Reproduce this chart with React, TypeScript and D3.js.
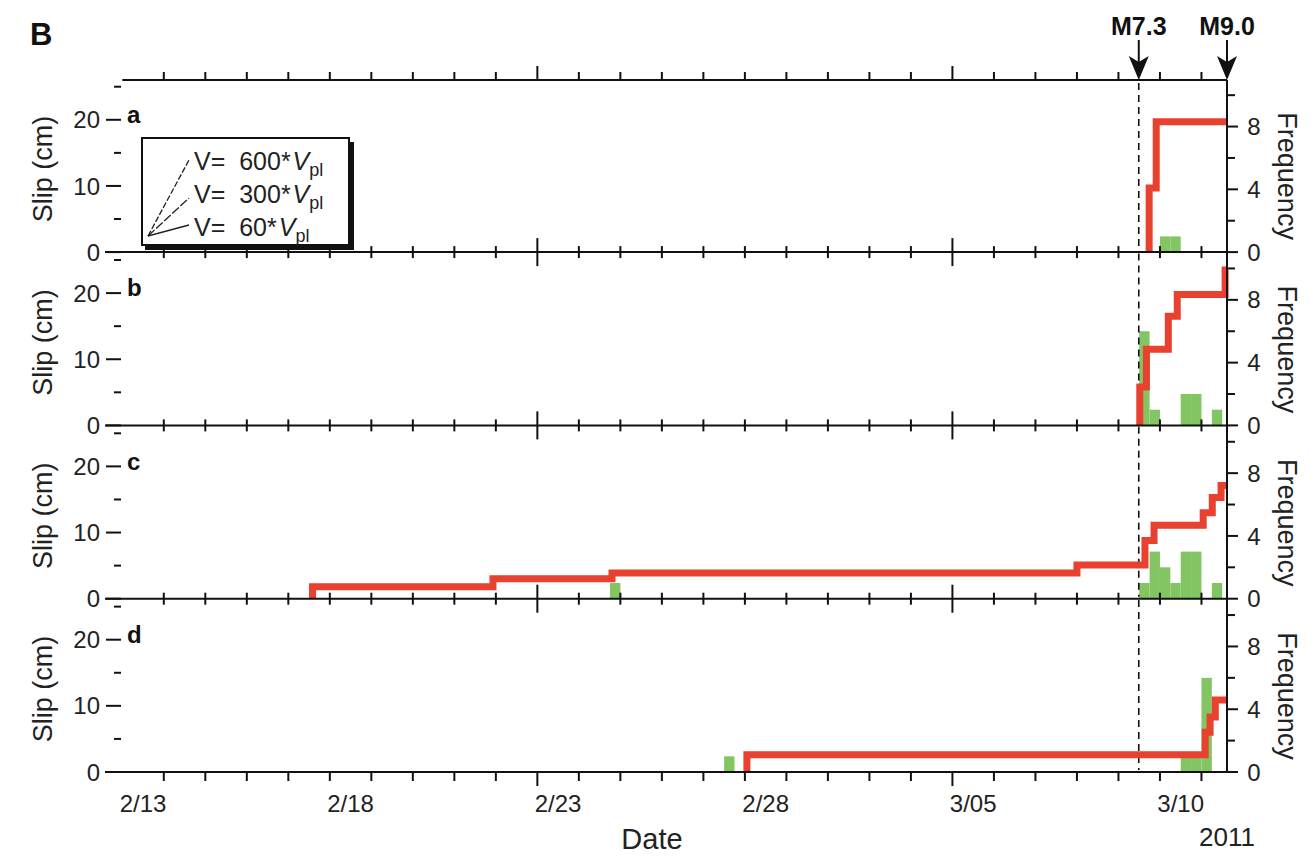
import React, { useEffect, useRef } from "react";
import * as d3 from "d3";

const panelLetters = ["a", "b", "c", "d"];

// cumulative slip (cm): time of each jump and the value after it
const slipTimesA = ["2011-03-09 17:45", "2011-03-09 21:50"];
const slipValuesA = [9.7, 19.7];
const slipTimesB = ["2011-03-09 12:20", "2011-03-09 16:10", "2011-03-10 04:50", "2011-03-10 10:00", "2011-03-11 13:40"];
const slipValuesB = [5.8, 11.5, 16.5, 19.8, 23.5];
const slipTimesC = [
  "2011-02-17 14:00", "2011-02-21 22:20", "2011-02-24 19:10", "2011-03-08 00:00", "2011-03-09 15:20",
  "2011-03-09 20:35", "2011-03-11 01:00", "2011-03-11 06:15", "2011-03-11 11:20",
];
const slipValuesC = [1.8, 3.0, 3.9, 5.1, 8.8, 11.1, 13.0, 15.3, 17.1];
const slipTimesD = ["2011-02-28 01:10", "2011-03-11 02:10", "2011-03-11 05:00", "2011-03-11 08:00"];
const slipValuesD = [2.6, 6.0, 8.3, 10.9];

// event frequency in 6-hour bins (bin start, count)
const binStartsA = ["2011-03-10 00:00", "2011-03-10 06:00"];
const binCountsA = [1, 1];
const binStartsB = ["2011-03-09 12:00", "2011-03-09 18:00", "2011-03-10 12:00", "2011-03-10 18:00", "2011-03-11 06:00"];
const binCountsB = [6, 1, 2, 2, 1];
const binStartsC = [
  "2011-02-24 18:00", "2011-03-09 12:00", "2011-03-09 18:00", "2011-03-10 00:00",
  "2011-03-10 06:00", "2011-03-10 12:00", "2011-03-10 18:00", "2011-03-11 06:00",
];
const binCountsC = [1, 1, 3, 2, 1, 3, 3, 1];
const binStartsD = ["2011-02-27 12:00", "2011-03-10 12:00", "2011-03-10 18:00", "2011-03-11 00:00"];
const binCountsD = [1, 1, 1, 6];

const startTime = "2011-02-12 14:00";
const endTime = "2011-03-11 14:46"; // M9.0
const m73Time = "2011-03-09 11:45";

const dateLabels = ["2011-02-13", "2011-02-18", "2011-02-23", "2011-02-28", "2011-03-05", "2011-03-10"];
const majorTickDays = ["2011-02-23", "2011-03-05"];
const slipMajor = [0, 10, 20];
const slipMinor = [5, 15, 25];
const freqMajor = [0, 4, 8];
const freqMinor = [2, 6, 10];

const legendSpeeds = ["600", "300", "60"];

const RED = "#e8412f";
const GREEN = "#82c562";
const FONT = "'Liberation Sans', Arial, Helvetica, sans-serif";

const App = () => {
  const svgRef = useRef(null);

  useEffect(() => {
    if (!svgRef.current) return;
    d3.select(svgRef.current).selectAll("*").remove();

    const width = 1311;
    const height = 858;
    const parse = d3.timeParse("%Y-%m-%d %H:%M");
    const parseDay = d3.timeParse("%Y-%m-%d");

    const svg = d3.select(svgRef.current)
      .attr("width", width)
      .attr("height", height)
      .style("font-family", FONT);

    const left = 105;
    const right = 1227;
    const topY = 80;
    const bottomY = 772;
    const panelStep = 173.3;

    const x = d3.scaleTime()
      .domain([parse(startTime), parse(endTime)])
      .range([left, right]);

    const days = d3.timeDay.range(new Date(2011, 1, 14), new Date(2011, 2, 12));
    const majorSet = new Set(majorTickDays.map(s => +parseDay(s)));

    const panels = [
      { times: slipTimesA, values: slipValuesA, bins: binStartsA, counts: binCountsA },
      { times: slipTimesB, values: slipValuesB, bins: binStartsB, counts: binCountsB },
      { times: slipTimesC, values: slipValuesC, bins: binStartsC, counts: binCountsC },
      { times: slipTimesD, values: slipValuesD, bins: binStartsD, counts: binCountsD },
    ];

    const xM73 = x(parse(m73Time));

    panels.forEach((p, i) => {
      const bottom = bottomY - (3 - i) * panelStep;
      const y = d3.scaleLinear().domain([0, 26]).range([bottom, bottom - 172]);
      const yf = d3.scaleLinear().domain([0, 10.96]).range([bottom, bottom - 172]);
      const g = svg.append("g");

      // frequency bars
      g.append("g")
        .selectAll("rect")
        .data(p.bins.map((b, k) => ({ t: parse(b), c: p.counts[k] })))
        .join("rect")
        .attr("x", d => x(d.t))
        .attr("width", d => x(d3.timeHour.offset(d.t, 6)) - x(d.t))
        .attr("y", d => yf(d.c))
        .attr("height", d => yf(0) - yf(d.c))
        .attr("fill", GREEN);

      // dashed M7.3 line through the panel
      g.append("line")
        .attr("x1", xM73).attr("x2", xM73)
        .attr("y1", i === 0 ? topY + 3 : bottom - 172)
        .attr("y2", bottom - 2)
        .attr("stroke", "#111")
        .attr("stroke-width", 1.6)
        .attr("stroke-dasharray", "7,5");

      // slip step line
      const pts = [[parse(p.times[0]), 0]].concat(p.times.map((t, k) => [parse(t), p.values[k]]));
      pts.push([parse(endTime), p.values[p.values.length - 1]]);
      g.append("path")
        .datum(pts)
        .attr("fill", "none")
        .attr("stroke", RED)
        .attr("stroke-width", 7)
        .attr("stroke-linejoin", "miter")
        .attr("d", d3.line().x(d => x(d[0])).y(d => y(d[1])).curve(d3.curveStepAfter));

      // baseline
      g.append("line")
        .attr("x1", left).attr("x2", right)
        .attr("y1", bottom).attr("y2", bottom)
        .attr("stroke", "#111").attr("stroke-width", 2);

      // date ticks on baseline
      g.append("g")
        .selectAll("line")
        .data(days)
        .join("line")
        .attr("x1", d => x(d)).attr("x2", d => x(d))
        .attr("y1", d => i === 3 ? bottom : bottom - (majorSet.has(+d) ? 14 : 6))
        .attr("y2", d => bottom + (majorSet.has(+d) ? 14 : (i === 3 ? 9 : 6)))
        .attr("stroke", "#111").attr("stroke-width", 2);

      // left slip ticks
      g.append("g")
        .selectAll("line")
        .data(slipMajor.map(v => ({ v, major: true })).concat(slipMinor.map(v => ({ v, major: false }))))
        .join("line")
        .attr("x1", d => d.major ? 106 : 114).attr("x2", 121)
        .attr("y1", d => y(d.v)).attr("y2", d => y(d.v))
        .attr("stroke", "#111").attr("stroke-width", 2);

      g.append("g")
        .selectAll("text")
        .data(slipMajor)
        .join("text")
        .attr("x", 100)
        .attr("y", d => y(d))
        .attr("dy", "0.36em")
        .attr("text-anchor", "end")
        .attr("font-size", 24)
        .attr("fill", "#222")
        .text(d => d);

      // right frequency ticks
      g.append("g")
        .selectAll("line")
        .data(freqMajor.map(v => ({ v, major: true })).concat(freqMinor.map(v => ({ v, major: false }))))
        .join("line")
        .attr("x1", right).attr("x2", d => d.major ? right + 11 : right + 8)
        .attr("y1", d => yf(d.v)).attr("y2", d => yf(d.v))
        .attr("stroke", "#111").attr("stroke-width", 2);

      g.append("g")
        .selectAll("text")
        .data(freqMajor)
        .join("text")
        .attr("x", 1254)
        .attr("y", d => yf(d))
        .attr("dy", "0.36em")
        .attr("text-anchor", "middle")
        .attr("font-size", 24)
        .attr("fill", "#222")
        .text(d => d);

      // axis titles
      const mid = bottom - 86;
      g.append("text")
        .attr("transform", `translate(${52},${mid + 3}) rotate(-90)`)
        .attr("text-anchor", "middle")
        .attr("font-size", 27)
        .attr("fill", "#222")
        .text("Slip (cm)");

      g.append("text")
        .attr("transform", `translate(${1278},${mid + 10}) rotate(90)`)
        .attr("text-anchor", "middle")
        .attr("font-size", 27)
        .attr("fill", "#222")
        .text("Frequency");

      // panel letter
      g.append("text")
        .attr("x", 127)
        .attr("y", bottom - 172 + 43)
        .attr("font-size", 24)
        .attr("font-weight", "bold")
        .attr("fill", "#111")
        .text(panelLetters[i]);
    });

    // right axis line
    svg.append("line")
      .attr("x1", right).attr("x2", right)
      .attr("y1", topY).attr("y2", bottomY)
      .attr("stroke", "#111").attr("stroke-width", 2);

    // top axis
    svg.append("line")
      .attr("x1", x(new Date(2011, 1, 13))).attr("x2", right)
      .attr("y1", topY).attr("y2", topY)
      .attr("stroke", "#111").attr("stroke-width", 2);

    svg.append("g")
      .selectAll("line")
      .data(days)
      .join("line")
      .attr("x1", d => x(d)).attr("x2", d => x(d))
      .attr("y1", topY)
      .attr("y2", d => topY - (majorSet.has(+d) ? 14 : 8))
      .attr("stroke", "#111").attr("stroke-width", 2);

    // date labels, centred on the day
    svg.append("g")
      .selectAll("text")
      .data(dateLabels.map(s => parseDay(s)))
      .join("text")
      .attr("x", d => x(d3.timeHour.offset(d, 12)))
      .attr("y", 812)
      .attr("text-anchor", "middle")
      .attr("font-size", 24)
      .attr("fill", "#222")
      .text(d => d3.timeFormat("%-m/%d")(d));

    svg.append("text")
      .attr("x", 652).attr("y", 849)
      .attr("text-anchor", "middle")
      .attr("font-size", 29)
      .attr("fill", "#222")
      .text("Date");

    svg.append("text")
      .attr("x", 1227).attr("y", 846)
      .attr("text-anchor", "middle")
      .attr("font-size", 26)
      .attr("fill", "#222")
      .text("2011");

    // earthquake arrows
    const quakes = [
      { t: m73Time, label: "M7.3" },
      { t: endTime, label: "M9.0" },
    ];
    quakes.forEach(q => {
      const qx = x(parse(q.t));
      svg.append("line")
        .attr("x1", qx).attr("x2", qx)
        .attr("y1", 40).attr("y2", 70)
        .attr("stroke", "#111").attr("stroke-width", 2);
      svg.append("path")
        .attr("d", `M${qx},${topY} L${qx - 10},${56} L${qx},${62} L${qx + 10},${56} Z`)
        .attr("fill", "#111");
      svg.append("text")
        .attr("x", qx).attr("y", 35)
        .attr("text-anchor", "middle")
        .attr("font-size", 25)
        .attr("font-weight", "bold")
        .attr("fill", "#111")
        .text(q.label);
    });

    svg.append("text")
      .attr("x", 30).attr("y", 45)
      .attr("font-size", 31)
      .attr("font-weight", "bold")
      .attr("fill", "#111")
      .text("B");

    // legend box in panel a
    const lg = svg.append("g");
    lg.append("rect")
      .attr("x", 145).attr("y", 142)
      .attr("width", 209).attr("height", 108)
      .attr("fill", "#111");
    lg.append("rect")
      .attr("x", 142).attr("y", 138)
      .attr("width", 207).attr("height", 107)
      .attr("fill", "#fff")
      .attr("stroke", "#111")
      .attr("stroke-width", 2);

    const originX = 148;
    const originY = 236;
    const lineEnds = [[189, 160], [189, 198], [189, 225]];
    const dashes = ["6,2", "9,2", null];
    lineEnds.forEach((e, k) => {
      lg.append("line")
        .attr("x1", originX).attr("y1", originY)
        .attr("x2", e[0]).attr("y2", e[1])
        .attr("stroke", "#222")
        .attr("stroke-width", 1.3)
        .attr("stroke-dasharray", dashes[k]);
    });

    legendSpeeds.forEach((s, k) => {
      const t = lg.append("text")
        .attr("x", 194)
        .attr("y", 170 + k * 33)
        .attr("font-size", 25)
        .attr("fill", "#222");
      t.append("tspan").text("V=\u00a0\u00a0" + s + "*");
      t.append("tspan").attr("font-style", "italic").attr("dx", 2).text("V");
      t.append("tspan").attr("font-size", 18).attr("dy", 6).text("pl");
    });
  }, []);

  return (
    <div style={{ position: "absolute", left: 0, top: 0 }}>
      <svg ref={svgRef}></svg>
    </div>
  );
};

export default App;
